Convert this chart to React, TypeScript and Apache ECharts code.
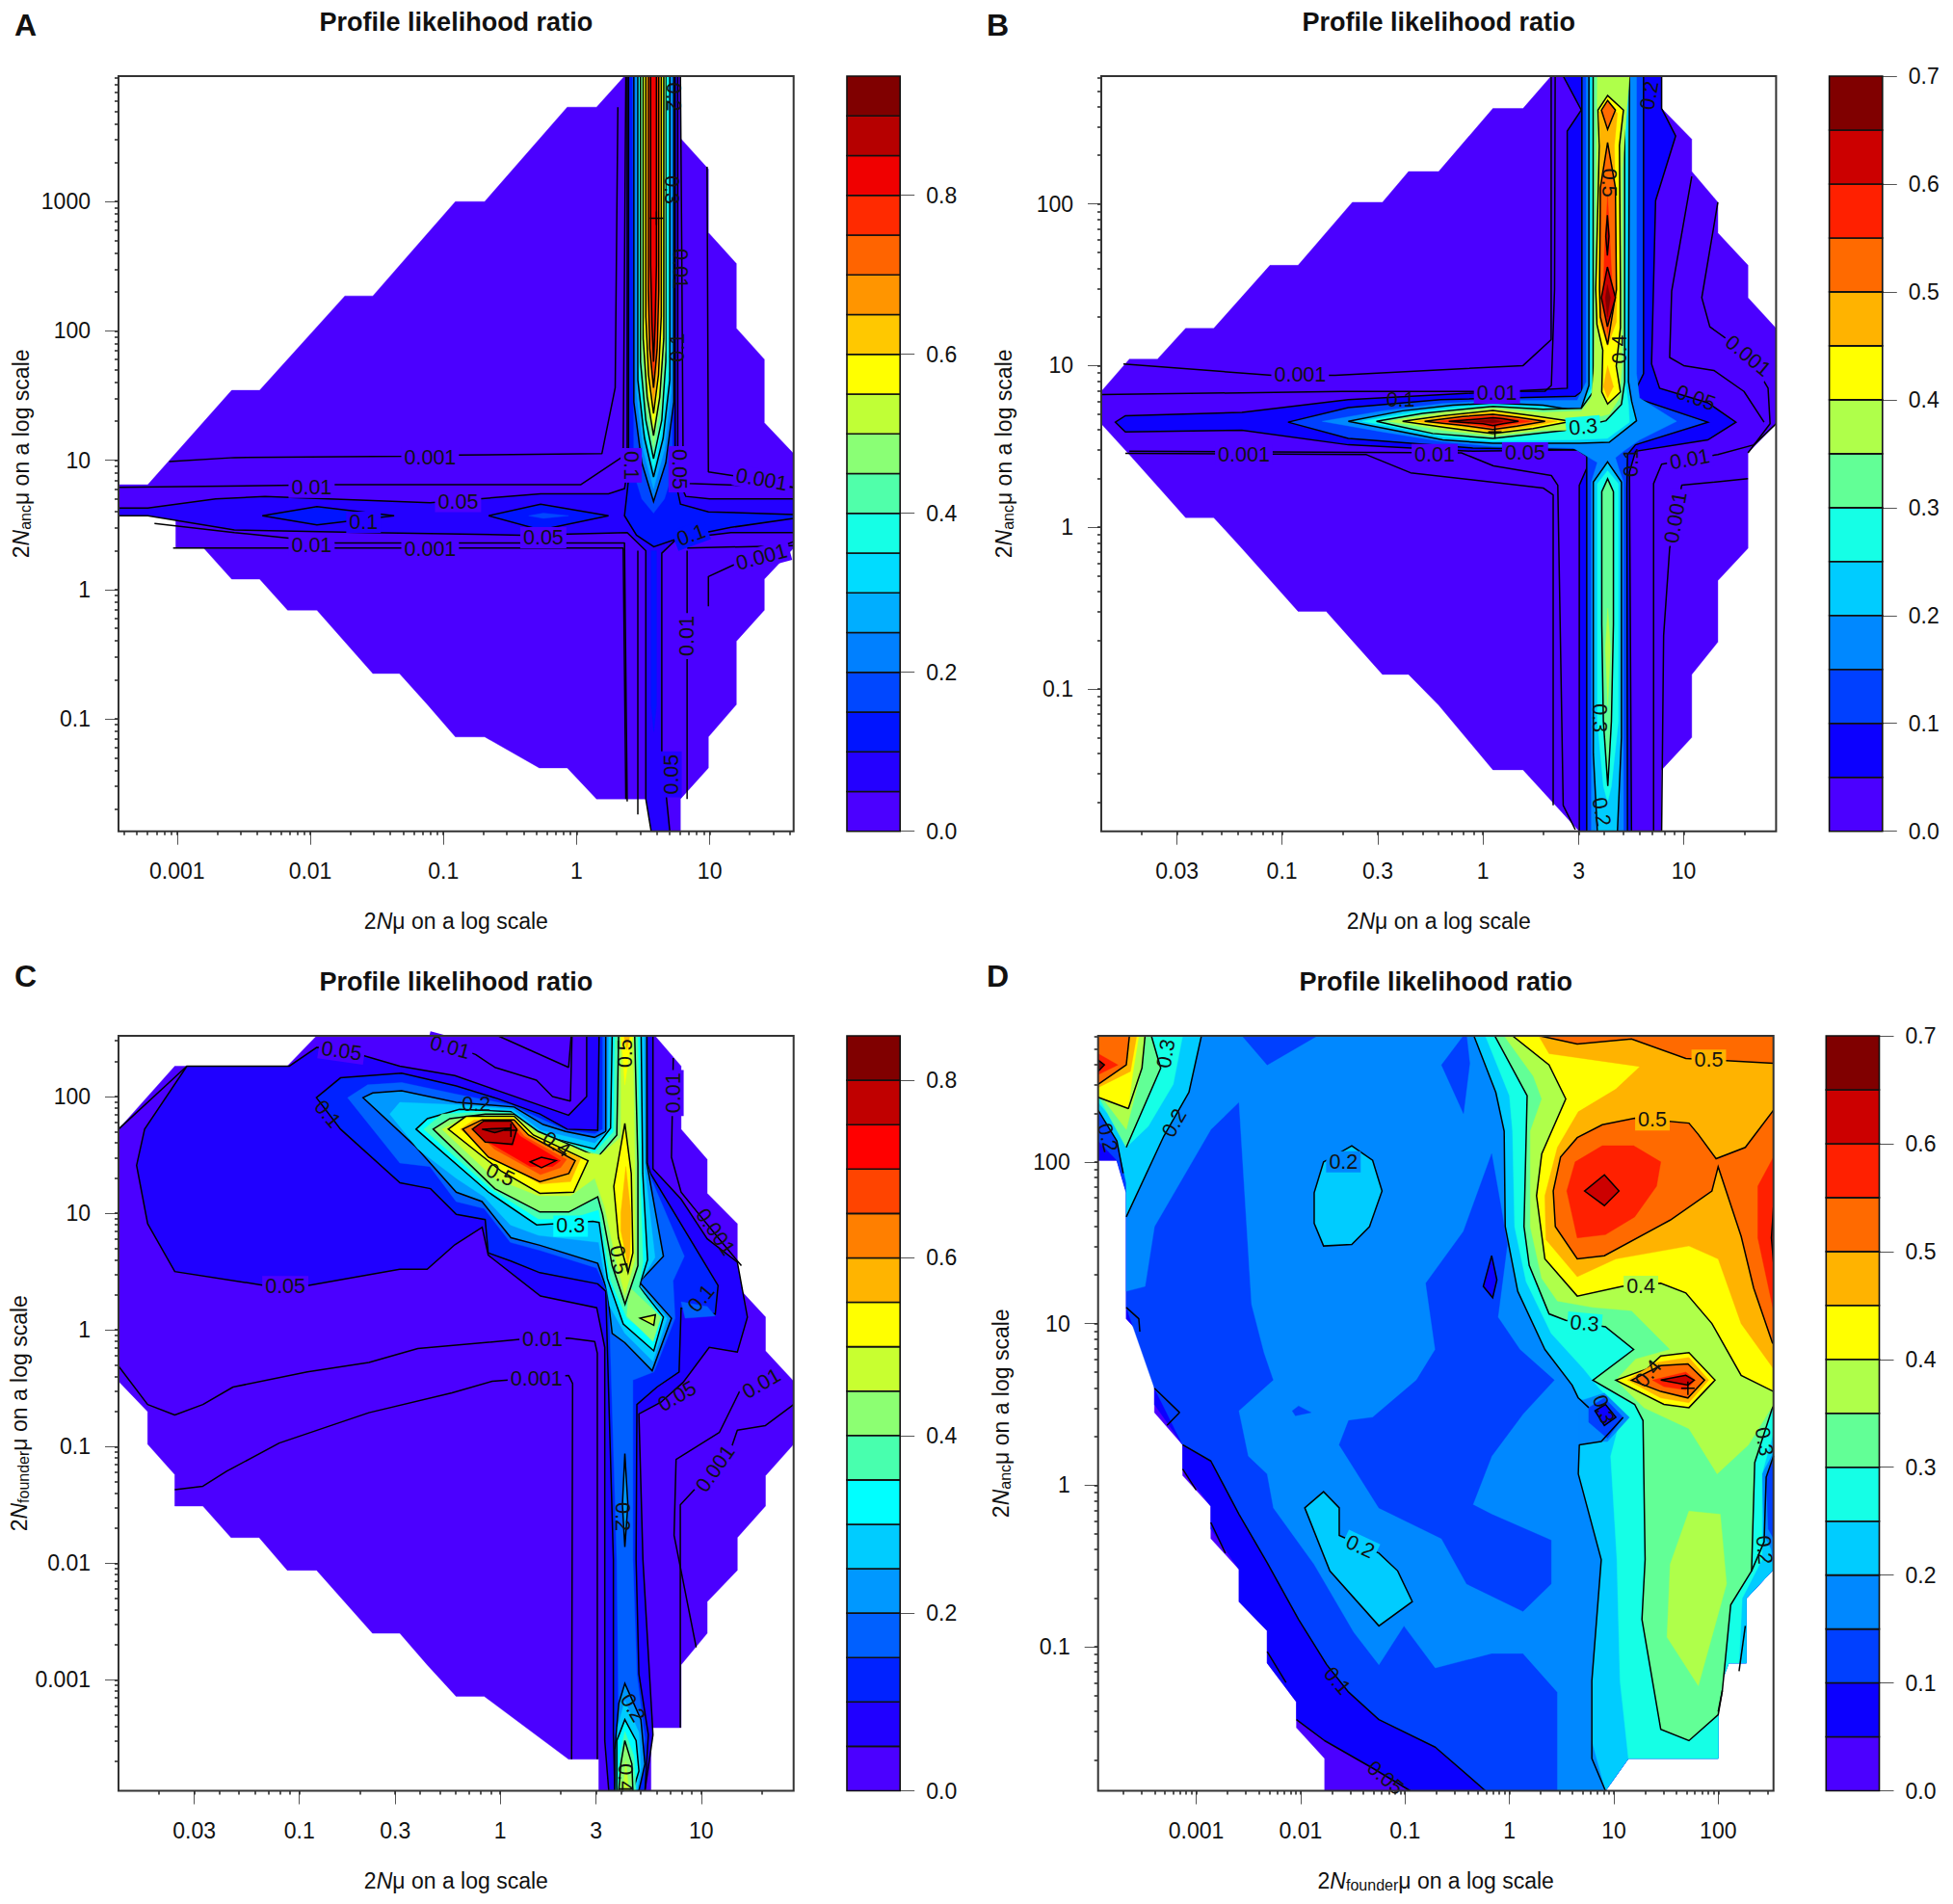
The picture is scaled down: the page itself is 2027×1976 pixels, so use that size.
import React, { useEffect, useRef } from 'react';
import * as echarts from 'echarts';

// all marks are in log10 units of the axis values
type Pt = number[];
type Fill = [number, number, Pt[]]; // colour index, outlined, polygon
type Label = [string, number, number, number, number]; // text, x, y, rotation, background colour index

const FONT = '"Liberation Sans", Arial, sans-serif';

const colors19 = ['#4B00FF', '#2400FF', '#0014FF', '#0047FF', '#0080FF', '#00AEFF', '#00DCFF', '#15FFE6', '#50FFAA', '#8AFF75', '#C0FF36', '#FFFF00', '#FFC800', '#FF9500', '#FF6400', '#FF2A00', '#F00000', '#B60000', '#800000'];
const colors14 = ['#4B00FF', '#0C00FF', '#0040FF', '#0088FF', '#00CCFF', '#15FFE6', '#62FF96', '#AFFF4A', '#FFFF00', '#FFB300', '#FF6A00', '#FF2000', '#CC0000', '#800000'];
const colors17 = ['#4B00FF', '#2000FF', '#0022FF', '#0060FF', '#0098FF', '#00CCFF', '#00FFFF', '#48FFAE', '#8CFF72', '#C8FF30', '#FFFF00', '#FFB400', '#FF7F00', '#FF4400', '#FF0000', '#C00000', '#800000'];

const barTicksA = [0, 0.2, 0.4, 0.6, 0.8];
const barTicksB = [0, 0.1, 0.2, 0.3, 0.4, 0.5, 0.6, 0.7];

const xTicksA = [0.001, 0.01, 0.1, 1, 10];
const yTicksA = [0.1, 1, 10, 100, 1000];
const xTicksB = [0.03, 0.1, 0.3, 1, 3, 10];
const yTicksB = [0.1, 1, 10, 100];
const yTicksC = [0.001, 0.01, 0.1, 1, 10, 100];
const xTicksD = [0.001, 0.01, 0.1, 1, 10, 100];

const fillsA: Fill[] = [
  [0, 0, [[-3.44, 0.81], [-3.22, 0.81], [-2.59, 1.54], [-2.38, 1.54], [-1.74, 2.27], [-1.53, 2.27], [-0.91, 3], [-0.69, 3], [-0.07, 3.73], [0.15, 3.73], [0.36, 3.97], [0.78, 3.97], [0.78, 3.49], [0.99, 3.25], [0.99, 2.76], [1.2, 2.52], [1.2, 2.02], [1.41, 1.78], [1.41, 1.29], [1.63, 1.05], [1.63, 0.32], [1.41, 0.08], [1.41, -0.16], [1.2, -0.4], [1.2, -0.89], [0.99, -1.14], [0.99, -1.38], [0.78, -1.62], [0.78, -1.87], [0.56, -1.87], [0.56, -1.62], [0.15, -1.62], [-0.07, -1.38], [-0.28, -1.38], [-0.69, -1.14], [-0.91, -1.14], [-1.12, -0.89], [-1.33, -0.65], [-1.53, -0.65], [-1.95, -0.16], [-2.17, -0.16], [-2.38, 0.08], [-2.59, 0.08], [-2.8, 0.32], [-3.01, 0.32], [-3.01, 0.57], [-3.44, 0.57]]],
  [1, 1, [[-3.44, 0.63], [-3.22, 0.63], [-2.71, 0.7], [-2.34, 0.72], [-1.1, 0.67], [-0.27, 0.74], [0.24, 0.74], [0.36, 0.78], [0.38, 0.91], [0.38, 3.97], [0.76, 3.97], [0.76, 0.86], [0.82, 0.72], [1, 0.7], [1.63, 0.7], [1.63, 0.44], [1.16, 0.44], [0.75, 0.39], [0.64, 0.28], [0.64, -1.25], [0.7, -1.87], [0.56, -1.87], [0.52, -1.62], [0.52, 0.3], [0.38, 0.44], [-0.41, 0.42], [-1.56, 0.44], [-2.57, 0.46], [-3.22, 0.57], [-3.44, 0.57]]],
  [2, 1, [[-2.36, 0.57], [-1.95, 0.64], [-1.37, 0.57], [-1.95, 0.5]]],
  [2, 1, [[-0.66, 0.57], [-0.27, 0.66], [0.24, 0.57], [-0.27, 0.46]]],
  [3, 0, [[-0.36, 0.57], [-0.25, 0.59], [-0.06, 0.57], [-0.25, 0.55]]],
  [2, 1, [[0.39, 3.97], [0.74, 3.97], [0.74, 0.85], [0.78, 0.66], [0.99, 0.6], [1.63, 0.58], [1.63, 0.55], [1.16, 0.48], [0.78, 0.4], [0.58, 0.33], [0.45, 0.42], [0.36, 0.57], [0.39, 0.85]]],
  [2, 0, [[0.56, 0.3], [0.6, 0.3], [0.6, -0.9], [0.58, -1.1], [0.56, -0.9]]],
  [3, 0, [[0.42, 3.97], [0.72, 3.97], [0.72, 0.9], [0.66, 0.7], [0.578, 0.59], [0.49, 0.7], [0.43, 0.9]]],
  [4, 1, [[0.43, 3.97], [0.73, 3.97], [0.73, 1.45], [0.67, 0.98], [0.578, 0.68], [0.49, 0.98], [0.43, 1.45]]],
  [5, 0, [[0.45, 3.97], [0.71, 3.97], [0.71, 1.53], [0.66, 1.08], [0.578, 0.78], [0.5, 1.08], [0.45, 1.53]]],
  [6, 1, [[0.46, 3.97], [0.7, 3.97], [0.7, 1.62], [0.65, 1.17], [0.578, 0.87], [0.51, 1.17], [0.46, 1.62]]],
  [7, 0, [[0.47, 3.97], [0.69, 3.97], [0.69, 1.69], [0.64, 1.24], [0.578, 0.94], [0.51, 1.24], [0.47, 1.69]]],
  [8, 1, [[0.48, 3.97], [0.67, 3.97], [0.67, 1.76], [0.64, 1.31], [0.578, 1.01], [0.52, 1.31], [0.48, 1.76]]],
  [9, 0, [[0.49, 3.97], [0.665, 3.97], [0.665, 1.85], [0.63, 1.4], [0.578, 1.1], [0.525, 1.4], [0.49, 1.85]]],
  [10, 1, [[0.5, 3.97], [0.655, 3.97], [0.655, 1.94], [0.625, 1.49], [0.578, 1.19], [0.53, 1.49], [0.5, 1.94]]],
  [11, 0, [[0.51, 3.97], [0.645, 3.97], [0.645, 2.03], [0.62, 1.58], [0.578, 1.28], [0.535, 1.58], [0.51, 2.03]]],
  [12, 1, [[0.52, 3.97], [0.636, 3.97], [0.636, 2.11], [0.615, 1.66], [0.578, 1.36], [0.54, 1.66], [0.52, 2.11]]],
  [13, 0, [[0.53, 3.97], [0.626, 3.97], [0.626, 2.21], [0.61, 1.76], [0.578, 1.46], [0.55, 1.76], [0.53, 2.21]]],
  [14, 1, [[0.54, 3.97], [0.617, 3.97], [0.617, 2.31], [0.605, 1.86], [0.578, 1.56], [0.55, 1.86], [0.54, 2.31]]],
  [15, 0, [[0.548, 3.97], [0.608, 3.97], [0.608, 2.41], [0.6, 1.96], [0.578, 1.66], [0.556, 1.96], [0.548, 2.41]]],
  [16, 1, [[0.556, 3.97], [0.6, 3.97], [0.6, 2.51], [0.59, 2.06], [0.578, 1.76], [0.566, 2.06], [0.556, 2.51]]],
];
const linesA: Pt[][] = [
  [[-3.06, 0.99], [-2.57, 1.02], [-1.28, 1.03], [-0.89, 1.04], [0.19, 1.05], [0.29, 1.56], [0.31, 3.73]],
  [[-3.44, 0.79], [-1.83, 0.81], [0.03, 0.81], [0.35, 1.03], [0.37, 3.97]],
  [[-3.17, 0.51], [-2.57, 0.44], [-1.81, 0.36], [0.36, 0.36], [0.38, -1.64]],
  [[-3.03, 0.32], [0.35, 0.32], [0.37, -1.62]],
  [[0.46, 0.3], [0.46, -1.74]],
  [[0.98, 3.27], [0.99, 0.91], [1.18, 0.88], [1.63, 0.79]],
  [[0.78, 3.97], [0.79, 2.6], [0.8, 1], [0.84, 0.82], [1.63, 0.79]],
  [[0.83, 0.32], [1.63, 0.34]],
  [[0.83, 0.3], [0.83, -1.62]],
  [[0.99, -0.13], [0.99, 0.1], [1.18, 0.19], [1.58, 0.35], [1.63, 0.37]],
];
const labelsA: Label[] = [
  ['0.001', -1.1, 1.02, 0, 0], ['0.01', -1.99, 0.79, 0, 0], ['0.05', -0.89, 0.68, 0, 0], ['0.1', -1.6, 0.52, 0, 1],
  ['0.05', -0.25, 0.4, 0, 0], ['0.01', -1.99, 0.34, 0, 0], ['0.001', -1.1, 0.31, 0, 0], ['0.1', 0.41, 0.96, -90, 0],
  ['0.05', 0.77, 0.93, -90, 0], ['0.1', 0.86, 0.42, 20, 2], ['0.001', 1.39, 0.85, -10, 0], ['0.001', 1.39, 0.25, 15, 0],
  ['0.01', 0.83, -0.36, 90, 0], ['0.05', 0.71, -1.43, 90, 1], ['0.2', 0.73, 3.81, -90, -1], ['0.3', 0.71, 3.09, -90, -1],
  ['0.01', 0.78, 2.48, -90, -1], ['0.1', 0.76, 1.87, 90, -1],
];
const plusA: Pt[] = [[0.6, 2.87]];

const fillsB: Fill[] = [
  [0, 0, [[-1.9, 0.84], [-1.76, 1.04], [-1.62, 1.04], [-1.48, 1.23], [-1.34, 1.23], [-1.06, 1.62], [-0.92, 1.62], [-0.65, 2.01], [-0.5, 2.01], [-0.37, 2.2], [-0.22, 2.2], [0.05, 2.59], [0.2, 2.59], [0.34, 2.79], [0.89, 2.79], [0.89, 2.59], [1.04, 2.4], [1.04, 2.2], [1.17, 2.01], [1.17, 1.82], [1.32, 1.62], [1.32, 1.42], [1.46, 1.23], [1.46, 0.64], [1.32, 0.46], [1.32, -0.13], [1.17, -0.33], [1.17, -0.71], [1.04, -0.91], [1.04, -1.3], [0.89, -1.5], [0.89, -1.88], [0.48, -1.88], [0.2, -1.5], [0.05, -1.5], [-0.22, -1.1], [-0.37, -0.91], [-0.5, -0.91], [-0.78, -0.52], [-0.92, -0.52], [-1.2, -0.13], [-1.34, 0.06], [-1.48, 0.06], [-1.76, 0.45], [-1.9, 0.64]]],
  [1, 1, [[0.4, 2.79], [0.49, 2.58], [0.42, 2.45], [0.42, 0.86], [-0.67, 0.79], [-1.2, 0.71], [-1.78, 0.69], [-1.83, 0.65], [-1.78, 0.59], [-1.2, 0.6], [-0.67, 0.51], [-0.05, 0.47], [0.495, 0.48], [0.54, 0.43], [0.48, 0.26], [0.48, -1.88], [0.74, -1.88], [0.73, 0.34], [0.76, 0.47], [1.12, 0.54], [1.26, 0.65], [1.12, 0.77], [0.88, 0.86], [0.84, 1.01], [0.86, 2.02], [0.96, 2.42], [0.89, 2.59], [0.89, 2.79]]],
  [2, 1, [[0.493, 2.79], [0.493, 0.84], [0.46, 0.81], [-0.21, 0.79], [-0.67, 0.74], [-0.97, 0.65], [-0.67, 0.55], [-0.05, 0.49], [0.469, 0.48], [0.517, 0.44], [0.517, 0.24], [0.517, -1.88], [0.72, -1.88], [0.717, 0.24], [0.72, 0.45], [0.76, 0.51], [1.12, 0.65], [0.76, 0.8], [0.757, 0.84], [0.8, 0.95], [0.8, 2.79]]],
  [3, 0, [[-0.8, 0.655], [-0.5, 0.72], [-0.2, 0.765], [0.05, 0.783], [0.47, 0.785], [0.515, 0.9], [0.515, 2.79], [0.765, 2.79], [0.765, 0.95], [0.78, 0.8], [0.965, 0.655], [0.78, 0.54], [0.7, 0.47], [0.66, 0.43], [0.68, 0.35], [0.7, 0.28], [0.7, -1.88], [0.54, -1.88], [0.54, 0.28], [0.57, 0.4], [0.45, 0.49], [0.05, 0.5], [-0.2, 0.53], [-0.5, 0.59]]],
  [4, 1, [[-0.67, 0.655], [-0.4, 0.72], [-0.15, 0.755], [0.05, 0.768], [0.3, 0.755], [0.485, 0.718], [0.528, 0.877], [0.528, 2.79], [0.73, 2.79], [0.725, 0.9], [0.741, 0.778], [0.765, 0.659], [0.629, 0.525], [0.48, 0.52], [0.05, 0.519], [-0.2, 0.54], [-0.4, 0.59]]],
  [5, 0, [[-0.6, 0.655], [-0.35, 0.71], [-0.1, 0.745], [0.05, 0.758], [0.3, 0.74], [0.49, 0.72], [0.54, 0.86], [0.54, 2.79], [0.715, 2.79], [0.71, 0.9], [0.725, 0.76], [0.73, 0.65], [0.62, 0.55], [0.45, 0.54], [0.05, 0.534], [-0.2, 0.56], [-0.35, 0.6]]],
  [6, 1, [[-0.53, 0.655], [-0.3, 0.705], [-0.05, 0.735], [0.05, 0.748], [0.3, 0.73], [0.49, 0.735], [0.549, 0.837], [0.549, 2.79], [0.706, 2.79], [0.706, 0.9], [0.69, 0.76], [0.613, 0.659], [0.405, 0.599], [0.05, 0.549], [-0.25, 0.58], [-0.4, 0.62]]],
  [7, 0, [[-0.47, 0.655], [-0.2, 0.71], [0.05, 0.735], [0.3, 0.71], [0.49, 0.72], [0.54, 0.8], [0.555, 1], [0.57, 2.79], [0.73, 2.79], [0.693, 2.2], [0.693, 1], [0.68, 0.8], [0.63, 0.7], [0.5, 0.66], [0.44, 0.6], [0.3, 0.6], [0.05, 0.565], [-0.2, 0.6]]],
  [8, 1, [[-0.4, 0.655], [-0.2, 0.69], [0.05, 0.722], [0.25, 0.69], [0.44, 0.655], [0.25, 0.61], [0.05, 0.579], [-0.2, 0.62]]],
  [9, 0, [[-0.34, 0.655], [-0.15, 0.69], [0.05, 0.71], [0.22, 0.68], [0.37, 0.655], [0.22, 0.62], [0.05, 0.59], [-0.15, 0.625]]],
  [10, 1, [[-0.29, 0.655], [-0.1, 0.685], [0.05, 0.698], [0.17, 0.68], [0.31, 0.655], [0.17, 0.625], [0.05, 0.605], [-0.1, 0.63]]],
  [11, 0, [[-0.23, 0.655], [-0.05, 0.68], [0.05, 0.688], [0.13, 0.675], [0.245, 0.655], [0.13, 0.635], [0.05, 0.617], [-0.05, 0.635]]],
  [12, 1, [[-0.17, 0.655], [0, 0.672], [0.05, 0.678], [0.1, 0.672], [0.178, 0.655], [0.1, 0.64], [0.05, 0.629], [0, 0.64]]],
  [13, 0, [[-0.07, 0.655], [0.05, 0.665], [0.1, 0.655], [0.05, 0.645]]],
  [8, 1, [[0.621, 2.67], [0.7, 2.58], [0.68, 2.36], [0.685, 1.47], [0.685, 1.235], [0.664, 0.996], [0.685, 0.837], [0.621, 0.762], [0.592, 0.837], [0.597, 1.096], [0.568, 1.255], [0.562, 1.473], [0.58, 2.36], [0.573, 2.58]]],
  [9, 0, [[0.621, 2.63], [0.67, 2.56], [0.655, 2.36], [0.668, 1.47], [0.665, 1.27], [0.621, 1.12], [0.58, 1.27], [0.578, 1.47], [0.585, 2.36], [0.578, 2.56]]],
  [9, 0, [[0.621, 1], [0.65, 0.87], [0.621, 0.8], [0.6, 0.87]]],
  [10, 1, [[0.621, 2.64], [0.66, 2.58], [0.621, 2.46], [0.59, 2.58]]],
  [10, 1, [[0.621, 2.38], [0.66, 2.1], [0.665, 1.47], [0.621, 1.13], [0.585, 1.3], [0.581, 1.47], [0.585, 2.1]]],
  [11, 0, [[0.621, 2.05], [0.645, 1.47], [0.621, 1.2], [0.6, 1.47], [0.605, 1.7]]],
  [12, 1, [[0.62, 1.61], [0.66, 1.42], [0.62, 1.24], [0.59, 1.42]]],
  [12, 1, [[0.62, 1.93], [0.628, 1.8], [0.62, 1.68], [0.612, 1.8]]],
  [13, 0, [[0.62, 1.5], [0.635, 1.42], [0.62, 1.3], [0.61, 1.42]]],
  [4, 1, [[0.621, 0.404], [0.69, 0.28], [0.69, -1.3], [0.67, -1.88], [0.57, -1.88], [0.55, -1.4], [0.55, 0.28]]],
  [5, 0, [[0.621, 0.35], [0.675, 0.27], [0.675, -1.2], [0.64, -1.6], [0.621, -1.7], [0.6, -1.6], [0.57, -1.2], [0.57, 0.27]]],
  [6, 1, [[0.621, 0.3], [0.65, 0.22], [0.65, -0.6], [0.64, -1.2], [0.622, -1.6], [0.6, -1.2], [0.592, -0.6], [0.592, 0.22]]],
  [7, 0, [[0.622, -0.5], [0.635, -0.75], [0.622, -1.1], [0.61, -0.75]]],
];
const linesB: Pt[][] = [
  [[-1.79, 1.01], [-1.05, 0.94], [-0.735, 0.94], [0.2, 1], [0.34, 1.16], [0.34, 2.79]],
  [[-1.9, 0.82], [-0.7, 0.84], [0.309, 0.841], [0.341, 0.877], [0.357, 1.473], [0.36, 2.79]],
  [[-1.78, 0.457], [-0.58, 0.449], [-0.36, 0.337], [0.3, 0.243], [0.35, 0.2], [0.35, -1.72]],
  [[-1.76, 0.47], [-0.107, 0.46], [0.053, 0.38], [0.341, 0.32], [0.373, 0.26], [0.381, -0.32], [0.4, -1.72], [0.46, -1.87]],
  [[0.85, -1.88], [0.85, 0.27], [0.89, 0.39], [1.17, 0.45], [1.35, 0.51], [1.46, 0.64]],
  [[1.32, 0.3], [0.99, 0.26], [0.93, -0.13], [0.9, -0.67], [0.89, -1.88]],
  [[1.17, 2.01], [1.09, 1.42], [1.13, 1.24], [1.32, 1.07], [1.42, 0.86], [1.43, 0.64], [1.32, 0.46]],
  [[1.04, 2.17], [0.94, 1.46], [0.93, 1.05], [1, 1], [1.15, 0.97], [1.3, 0.84], [1.4, 0.65]],
];
const labelsB: Label[] = [
  ['0.001', -0.91, 0.94, 0, 0], ['0.01', 0.07, 0.83, 0, 0], ['0.1', -0.41, 0.79, 0, -1], ['0.05', 1.06, 0.8, -20, -1],
  ['0.001', 1.32, 1.06, -40, 0], ['0.3', 0.5, 0.62, 5, 5], ['0.001', -1.19, 0.45, 0, 0], ['0.01', -0.24, 0.45, 0, 0],
  ['0.05', 0.21, 0.46, 0, 0], ['0.1', 0.74, 0.4, 90, -1], ['0.01', 1.03, 0.42, 10, 0], ['0.001', 0.96, 0.06, 80, 0],
  ['0.3', 0.58, -1.18, -90, -1], ['0.2', 0.59, -1.76, -80, -1], ['0.5', 0.63, 2.13, -90, -1], ['0.4', 0.68, 1.1, 90, -1],
  ['0.2', 0.83, 2.67, 80, -1],
];
const plusB: Pt[] = [[0.06, 0.59]];

const fillsC: Fill[] = [
  [0, 0, [[-1.9, 1.72], [-1.62, 2.26], [-1.06, 2.26], [-0.914, 2.52], [0.77, 2.52], [0.9, 2.26], [0.9, 1.72], [1.03, 1.46], [1.03, 1.17], [1.18, 0.91], [1.18, 0.37], [1.32, 0.11], [1.32, -0.18], [1.46, -0.44], [1.46, -0.98], [1.32, -1.25], [1.32, -1.51], [1.18, -1.78], [1.18, -2.06], [1.03, -2.33], [1.03, -2.6], [0.9, -2.87], [0.9, -3.41], [0.75, -3.41], [0.75, -3.95], [0.49, -3.95], [0.49, -3.68], [0.34, -3.68], [-0.08, -3.14], [-0.22, -3.14], [-0.364, -2.87], [-0.5, -2.6], [-0.636, -2.6], [-0.914, -2.06], [-1.06, -2.06], [-1.2, -1.78], [-1.34, -1.78], [-1.48, -1.51], [-1.62, -1.51], [-1.62, -1.24], [-1.755, -0.98], [-1.755, -0.7], [-1.9, -0.44]]],
  [1, 1, [[-1.56, 2.26], [-1.05, 2.26], [-0.914, 2.42], [-0.8, 2.41], [-0.5, 2.26], [-0.226, 2.18], [-0.012, 2.05], [0.34, 1.84], [0.43, 2], [0.43, 2.52], [0.76, 2.52], [0.76, 1.38], [0.9, 1.12], [1.03, 0.78], [1.18, 0.58], [1.23, 0.11], [1.18, -0.19], [1.04, -0.15], [0.91, -0.45], [0.8, -0.62], [0.69, -0.72], [0.71, -1.97], [0.76, -3.47], [0.72, -3.95], [0.54, -3.95], [0.52, -3.52], [0.52, -0.15], [0.48, 0.19], [0.2, 0.29], [-0.06, 0.64], [-0.09, 0.88], [-0.226, 0.73], [-0.364, 0.52], [-0.5, 0.52], [-0.96, 0.38], [-1.17, 0.38], [-1.62, 0.5], [-1.755, 0.91], [-1.81, 1.41], [-1.77, 1.72]]],
  [2, 1, [[-0.915, 1.99], [-0.795, 2.16], [-0.491, 2.2], [-0.219, 2.09], [-0.011, 1.98], [0.197, 1.85], [0.333, 1.72], [0.485, 1.71], [0.492, 2.52], [0.73, 2.52], [0.732, 1.43], [0.748, 1.34], [1.084, 0.38], [1.07, 0.135], [0.9, 0.187], [0.89, -0.36], [0.78, -0.49], [0.68, -0.64], [0.676, -1.97], [0.69, -2.95], [0.737, -3.47], [0.72, -3.95], [0.57, -3.95], [0.563, -3.47], [0.563, -1.97], [0.525, 0.33], [0.485, 0.395], [0.197, 0.49], [0.053, 0.59], [-0.06, 0.66], [-0.075, 0.945], [-0.219, 0.99], [-0.347, 1.21], [-0.499, 1.26], [-0.795, 1.72]]],
  [3, 0, [[-0.76, 1.99], [-0.66, 2.1], [-0.49, 2.12], [-0.22, 2.02], [0.05, 1.93], [0.2, 1.81], [0.33, 1.71], [0.47, 1.68], [0.51, 1.72], [0.51, 2.52], [0.73, 2.52], [0.73, 1.43], [0.75, 1.3], [0.916, 0.63], [0.86, 0.42], [0.87, 0.1], [0.765, -0.36], [0.66, -0.43], [0.66, -1.97], [0.68, -2.95], [0.72, -3.5], [0.69, -3.95], [0.59, -3.95], [0.59, -3.5], [0.58, -1.97], [0.54, 0.3], [0.48, 0.53], [0.2, 0.68], [0.05, 0.75], [-0.08, 1.04], [-0.22, 1.1], [-0.35, 1.4], [-0.5, 1.43]]],
  [3, 0, [[0.9, 0.24], [1.03, 0.2], [1.07, 0.12], [0.92, 0.1]]],
  [4, 1, [[-0.683, 1.99], [-0.635, 2.03], [-0.491, 2.05], [-0.219, 1.95], [0.069, 1.91], [0.213, 1.76], [0.325, 1.7], [0.469, 1.65], [0.525, 1.7], [0.525, 2.52], [0.729, 2.52], [0.729, 1.43], [0.812, 0.63], [0.692, 0.41], [0.852, 0.1], [0.756, -0.35], [0.62, -0.11], [0.557, -0.03], [0.533, 0.33], [0.485, 0.57], [0.197, 0.725], [0.053, 0.79], [-0.091, 1.1], [-0.219, 1.18], [-0.427, 1.58]]],
  [4, 1, [[0.62, -1.06], [0.635, -1.5], [0.62, -1.86], [0.608, -1.5]]],
  [5, 0, [[-0.55, 1.85], [-0.5, 1.95], [-0.22, 1.93], [0.06, 1.89], [0.2, 1.71], [0.47, 1.6], [0.535, 1.71], [0.54, 2.52], [0.715, 2.52], [0.72, 1.38], [0.77, 0.62], [0.69, 0.39], [0.83, 0.1], [0.76, -0.27], [0.62, -0.03], [0.545, 0.2], [0.49, 0.75], [0.19, 0.81], [0.05, 0.9], [-0.08, 1.14], [-0.22, 1.3], [-0.41, 1.55]]],
  [6, 1, [[-0.419, 1.72], [-0.363, 1.81], [-0.203, 1.89], [0.053, 1.87], [0.197, 1.67], [0.469, 1.55], [0.549, 1.73], [0.557, 2.52], [0.701, 2.52], [0.709, 1.34], [0.733, 0.6], [0.692, 0.37], [0.812, 0.11], [0.764, -0.18], [0.612, 0.05], [0.533, 0.44], [0.492, 0.92], [0.461, 0.93], [0.181, 0.9], [-0.059, 1.18]]],
  [7, 0, [[-0.38, 1.72], [-0.29, 1.85], [-0.07, 1.87], [0.06, 1.86], [0.19, 1.69], [0.47, 1.52], [0.565, 1.7], [0.57, 2.52], [0.685, 2.52], [0.695, 1.4], [0.71, 0.58], [0.69, 0.37], [0.79, 0.11], [0.765, -0.07], [0.63, 0.1], [0.55, 0.42], [0.49, 1.03], [0.34, 0.95], [0.19, 0.95], [-0.04, 1.2]]],
  [8, 0, [[0.64, 0.37], [0.8, 0.11], [0.76, -0.1], [0.63, 0.12]]],
  [8, 1, [[-0.334, 1.72], [-0.251, 1.81], [-0.075, 1.85], [0.069, 1.85], [0.189, 1.7], [0.357, 1.58], [0.485, 1.48], [0.58, 1.67], [0.589, 2.52], [0.669, 2.52], [0.685, 1.43], [0.685, 0.55], [0.621, 0.22], [0.557, 0.55], [0.509, 0.99], [0.485, 1.14], [0.341, 1.01], [0.197, 1.01], [-0.027, 1.21]]],
  [9, 1, [[0.696, 0.1], [0.772, 0.13], [0.764, 0.04]]],
  [9, 0, [[-0.29, 1.72], [-0.2, 1.8], [-0.06, 1.83], [0.06, 1.84], [0.18, 1.69], [0.42, 1.52], [0.5, 1.5], [0.6, 1.65], [0.6, 2.52], [0.66, 2.52], [0.67, 1.43], [0.67, 0.6], [0.62, 0.3], [0.575, 0.6], [0.52, 1.05], [0.47, 1.3], [0.35, 1.15], [0.19, 1.15], [-0.03, 1.3]]],
  [10, 1, [[-0.259, 1.72], [-0.171, 1.83], [0.069, 1.83], [0.165, 1.67], [0.437, 1.45], [0.365, 1.18], [0.197, 1.17], [0.005, 1.36]]],
  [10, 1, [[0.62, 1.77], [0.565, 1.23], [0.588, 0.79], [0.636, 0.49], [0.66, 0.66], [0.652, 1.34]]],
  [10, 0, [[0.6, 2.52], [0.66, 2.52], [0.64, 2.35], [0.62, 2.1], [0.61, 2.35]]],
  [11, 0, [[0.615, 2.52], [0.645, 2.52], [0.63, 2.4]]],
  [11, 0, [[-0.2, 1.72], [-0.13, 1.8], [0.06, 1.81], [0.15, 1.66], [0.4, 1.47], [0.35, 1.27], [0.2, 1.25], [0.02, 1.42]]],
  [11, 0, [[0.625, 1.4], [0.65, 1], [0.645, 0.65], [0.635, 0.55], [0.6, 0.85], [0.6, 1]]],
  [12, 1, [[-0.187, 1.72], [-0.091, 1.8], [0.069, 1.8], [0.141, 1.67], [0.373, 1.45], [0.341, 1.34], [0.197, 1.27], [-0.059, 1.48]]],
  [13, 0, [[-0.13, 1.72], [-0.08, 1.78], [0.06, 1.78], [0.12, 1.66], [0.33, 1.46], [0.3, 1.39], [0.2, 1.33], [-0.03, 1.55]]],
  [14, 0, [[-0.14, 1.72], [-0.08, 1.77], [0.05, 1.77], [0.1, 1.66], [0.3, 1.45], [0.26, 1.4], [0.15, 1.4], [-0.05, 1.6]]],
  [15, 1, [[-0.139, 1.72], [-0.083, 1.79], [0.053, 1.79], [0.082, 1.72], [0.06, 1.59], [-0.075, 1.61]]],
  [14, 1, [[0.149, 1.44], [0.205, 1.48], [0.277, 1.45], [0.205, 1.39]]],
  [16, 1, [[-0.091, 1.72], [0.053, 1.73], [-0.027, 1.69]]],
  [4, 1, [[0.62, -3.03], [0.7, -3.34], [0.72, -3.72], [0.69, -3.95], [0.57, -3.95], [0.57, -3.6], [0.59, -3.2]]],
  [5, 0, [[0.62, -3.18], [0.69, -3.45], [0.7, -3.75], [0.68, -3.95], [0.575, -3.95], [0.585, -3.4]]],
  [6, 1, [[0.62, -3.34], [0.676, -3.52], [0.69, -3.78], [0.66, -3.95], [0.58, -3.95], [0.58, -3.52]]],
  [7, 0, [[0.62, -3.44], [0.665, -3.65], [0.675, -3.95], [0.585, -3.95], [0.595, -3.65]]],
  [8, 1, [[0.62, -3.52], [0.655, -3.72], [0.66, -3.95], [0.59, -3.95], [0.6, -3.72]]],
  [9, 0, [[0.61, -3.95], [0.64, -3.95], [0.625, -3.7]]],
];
const linesC: Pt[][] = [
  [[-1.9, 1.72], [-1.56, 2.26]],
  [[-0.34, 2.5], [-0.123, 2.36], [-0.027, 2.25], [0.18, 2.14], [0.26, 2], [0.349, 1.96], [0.357, 2.52]],
  [[-0.011, 2.52], [0.34, 2.25], [0.353, 2.52]],
  [[0.861, 2.33], [0.852, 1.48], [0.9, 1.18], [0.98, 1.01], [1.108, 0.74], [1.2, 0.55]],
  [[-1.9, -0.31], [-1.755, -0.64], [-1.62, -0.73], [-1.48, -0.64], [-1.33, -0.49], [-0.96, -0.36], [-0.654, -0.28], [-0.41, -0.16], [0.11, -0.08], [0.34, -0.07], [0.47, -0.1], [0.483, -0.2], [0.483, -3.68]],
  [[-1.62, -1.37], [-1.48, -1.34], [-1.36, -1.21], [-1.1, -0.97], [-0.654, -0.71], [-0.24, -0.54], [-0.04, -0.44], [0.34, -0.39], [0.36, -0.46], [0.355, -3.68]],
  [[1.196, -0.51], [1.09, -0.88], [0.875, -1.11], [0.865, -1.76], [0.975, -2.72]],
  [[1.46, -0.64], [1.32, -0.82], [1.18, -0.86], [1.15, -1.01], [0.966, -1.37], [0.896, -1.5], [0.896, -3.41]],
];
const labelsC: Label[] = [
  ['0.05', -0.79, 2.39, -8, 0], ['0.01', -0.25, 2.42, -15, 0], ['0.2', -0.12, 1.93, 0, -1], ['0.1', -0.86, 1.85, -50, -1],
  ['0.4', 0.28, 1.59, -35, -1], ['0.5', 0, 1.33, -25, -1], ['0.3', 0.35, 0.89, 0, 6], ['0.5', 0.62, 2.37, 90, -1],
  ['0.01', 0.86, 2.03, 90, 0], ['0.001', 1.07, 0.84, -55, -1], ['0.5', 0.59, 0.6, -80, -1], ['0.05', -1.07, 0.37, 0, 0],
  ['0.1', 1, 0.27, 50, -1], ['0.01', 0.21, -0.08, 0, 0], ['0.001', 0.18, -0.42, 0, 0], ['0.05', 0.88, -0.57, 30, -1],
  ['0.01', 1.3, -0.46, 30, 0], ['0.001', 1.07, -1.19, 55, 0], ['0.2', 0.61, -1.6, -90, -1], ['0.2', 0.66, -3.24, -60, -1],
  ['0.4', 0.62, -3.84, -90, -1],
];
const plusC: Pt[] = [[0.053, 1.71]];

const fillsD: Fill[] = [
  [0, 0, [[-3.94, 2.78], [2.53, 2.78], [2.53, -0.52], [2.27, -0.7], [2.27, -1.1], [2.1, -1.1], [2, -1.27], [2, -1.69], [1.14, -1.69], [0.92, -1.89], [-1.77, -1.89], [-1.77, -1.69], [-2.04, -1.5], [-2.04, -1.34], [-2.32, -1.1], [-2.32, -0.9], [-2.59, -0.72], [-2.59, -0.52], [-2.86, -0.33], [-2.86, -0.13], [-3.13, 0.06], [-3.13, 0.25], [-3.4, 0.45], [-3.4, 0.84], [-3.67, 1.03], [-3.67, 1.81], [-3.76, 2.01], [-3.94, 2.01]]],
  [1, 0, [[-3.94, 2.78], [2.53, 2.78], [2.53, -0.52], [2.27, -0.7], [2.27, -1.1], [2.1, -1.1], [2, -1.27], [2, -1.69], [1.14, -1.69], [0.92, -1.89], [-0.95, -1.89], [-1.31, -1.75], [-1.77, -1.58], [-2.04, -1.45], [-2.04, -1.34], [-2.32, -1.1], [-2.32, -0.9], [-2.59, -0.72], [-2.59, -0.52], [-2.86, -0.27], [-2.86, -0.13], [-3.13, 0.1], [-3.13, 0.25], [-3.4, 0.5], [-3.4, 0.84], [-3.67, 1.03], [-3.67, 1.81], [-3.76, 2.01], [-3.94, 2.01]]],
  [2, 0, [[-3.94, 2.78], [2.53, 2.78], [2.53, -0.52], [2.27, -0.7], [2.27, -1.1], [2.1, -1.1], [2, -1.27], [2, -1.69], [1.14, -1.69], [0.92, -1.89], [-0.23, -1.89], [-0.71, -1.62], [-1.25, -1.45], [-1.54, -1.28], [-1.75, -1.11], [-2.02, -0.83], [-2.32, -0.48], [-2.59, -0.18], [-2.86, 0.15], [-3.13, 0.25], [-3.4, 0.6], [-3.67, 1.1], [-3.67, 1.81], [-3.76, 2.01], [-3.94, 2.13]]],
  [3, 0, [[-3.94, 2.78], [2.53, 2.78], [2.53, -0.52], [2.27, -0.7], [2.27, -1.1], [2.1, -1.1], [2, -1.27], [2, -1.69], [1.14, -1.69], [0.92, -1.89], [0.46, -1.89], [0.46, -1.28], [0.13, -1.04], [-0.17, -1.04], [-0.71, -1.13], [-1.01, -0.87], [-1.25, -1.11], [-1.49, -0.91], [-1.87, -0.49], [-2.26, -0.14], [-2.32, 0.07], [-2.5, 0.18], [-2.59, 0.46], [-2.26, 0.65], [-2.35, 0.82], [-2.47, 1.12], [-2.59, 2.37], [-2.86, 2.2], [-3.4, 1.6], [-3.49, 1.23], [-3.67, 1.2], [-3.67, 1.94], [-3.73, 2.09], [-3.94, 2.33]]],
  [2, 0, [[-0.17, 2.05], [-0.08, 1.72], [-0.02, 1.49], [-0.11, 1.04], [0.1, 0.84], [0.43, 0.65], [0.13, 0.44], [-0.17, 0.18], [-0.35, -0.12], [-0.17, -0.18], [0.4, -0.34], [0.4, -0.61], [0.13, -0.78], [-0.41, -0.61], [-0.65, -0.33], [-1.25, -0.14], [-1.63, 0.25], [-1.54, 0.4], [-1.31, 0.42], [-0.89, 0.65], [-0.71, 0.84], [-0.8, 1.25], [-0.44, 1.57]]],
  [2, 0, [[-2.56, 2.78], [-2.32, 2.6], [-1.84, 2.78]]],
  [2, 0, [[-0.44, 2.78], [-0.65, 2.6], [-0.44, 2.3], [-0.38, 2.61], [-0.41, 2.78]]],
  [2, 0, [[-2.08, 0.46], [-2.02, 0.49], [-1.9, 0.45], [-2.05, 0.43]]],
  [1, 1, [[-0.17, 1.42], [-0.25, 1.23], [-0.16, 1.16], [-0.12, 1.27]]],
  [4, 1, [[-1.78, 2], [-1.51, 2.1], [-1.31, 2.01], [-1.22, 1.82], [-1.34, 1.6], [-1.51, 1.49], [-1.78, 1.48], [-1.87, 1.62], [-1.87, 1.81]]],
  [4, 1, [[-1.96, -0.14], [-1.78, -0.04], [-1.63, -0.14], [-1.63, -0.31], [-1.25, -0.42], [-1.07, -0.53], [-0.93, -0.72], [-1.25, -0.87], [-1.72, -0.53]]],
  [4, 0, [[-3.94, 2.78], [-2.95, 2.78], [-3.07, 2.43], [-3.31, 2.16], [-3.67, 1.66], [-3.67, 1.87], [-3.76, 2.13], [-3.94, 2.32]]],
  [5, 0, [[-3.94, 2.78], [-3.13, 2.78], [-3.22, 2.48], [-3.46, 2.22], [-3.67, 2.09], [-3.85, 2.3], [-3.94, 2.37]]],
  [6, 0, [[-3.94, 2.78], [-3.43, 2.78], [-3.34, 2.58], [-3.67, 2.09], [-3.94, 2.41]]],
  [7, 0, [[-3.94, 2.78], [-3.49, 2.78], [-3.52, 2.58], [-3.67, 2.2], [-3.94, 2.43]]],
  [8, 0, [[-3.94, 2.78], [-3.55, 2.78], [-3.61, 2.54], [-3.65, 2.33], [-3.94, 2.4]]],
  [9, 0, [[-3.94, 2.78], [-3.57, 2.78], [-3.63, 2.56], [-3.94, 2.46]]],
  [10, 0, [[-3.94, 2.78], [-3.64, 2.78], [-3.67, 2.6], [-3.94, 2.48]]],
  [11, 0, [[-3.94, 2.67], [-3.75, 2.6], [-3.94, 2.54]]],
  [13, 1, [[-3.94, 2.63], [-3.88, 2.6], [-3.94, 2.56]]],
  [4, 0, [[-0.34, 2.78], [2.53, 2.78], [2.53, 0.18], [2.46, 0.05], [2.48, -0.27], [2.53, -0.52], [2.27, -0.7], [2.27, -1.1], [2.1, -1.1], [2, -1.27], [2, -1.69], [1.14, -1.69], [0.92, -1.89], [0.79, -1.58], [0.79, -1.21], [0.88, -0.46], [0.66, 0.07], [0.67, 0.25], [0.88, 0.27], [1.09, 0.42], [0.66, 0.54], [0.6, 0.62], [0.34, 0.84], [0.08, 1.2], [-0.04, 1.6], [-0.05, 2.19], [-0.13, 2.43]]],
  [3, 0, [[2.53, 0.2], [2.42, 0.07], [2.44, -0.31], [2.53, -0.42]]],
  [2, 0, [[2.53, 0.16], [2.46, 0.05], [2.48, -0.27], [2.53, -0.33]]],
  [5, 0, [[-0.23, 2.78], [2.53, 2.78], [2.53, 0.33], [2.42, 0.07], [2.42, -0.46], [2.23, -0.7], [2.2, -1.1], [2.1, -1.1], [2, -1.27], [2, -1.69], [1.14, -1.69], [1.06, -1.21], [1.03, -0.46], [0.97, 0.18], [1.06, 0.4], [1.11, 0.44], [0.86, 0.6], [0.71, 0.72], [0.4, 0.94], [0.16, 1.26], [0.05, 1.6], [0.03, 2.19], [0, 2.41]]],
  [6, 1, [[-0.14, 2.78], [2.53, 2.78], [2.53, 0.5], [2.35, 0.14], [2.32, -0.53], [2.12, -0.74], [2.04, -1.27], [2, -1.42], [1.72, -1.58], [1.45, -1.51], [1.27, -0.83], [1.3, -0.46], [1.28, 0.4], [1.2, 0.5], [0.8, 0.65], [1.19, 0.84], [0.92, 0.98], [0.54, 1.02], [0.38, 1.06], [0.19, 1.36], [0.14, 1.6], [0.17, 2.41]]],
  [7, 0, [[-0.05, 2.78], [2.53, 2.78], [2.53, 0.5], [2.29, 0.25], [1.99, 0.07], [1.72, 0.35], [1.29, 0.48], [1.02, 0.65], [1.21, 0.78], [1.54, 0.84], [1.17, 1.08], [0.8, 1.1], [0.46, 1.14], [0.31, 1.28], [0.2, 1.6], [0.2, 2.19], [0.31, 2.39], [0.23, 2.53]]],
  [7, 0, [[1.72, -0.16], [2.02, -0.18], [2.08, -0.61], [1.81, -1.24], [1.51, -0.94], [1.54, -0.49]]],
  [8, 1, [[0.03, 2.78], [0.38, 2.6], [0.54, 2.39], [0.31, 2.05], [0.26, 1.79], [0.34, 1.4], [0.65, 1.17], [1.08, 1.23], [1.45, 1.25], [1.69, 1.19], [1.94, 1], [2.22, 0.68], [2.53, 0.58], [2.53, 2.78]]],
  [8, 1, [[1.45, 0.8], [1.72, 0.82], [1.97, 0.65], [1.72, 0.48], [1.48, 0.5], [1.02, 0.65], [1.32, 0.72]]],
  [9, 0, [[0.28, 2.78], [0.38, 2.67], [1.25, 2.59], [1.02, 2.45], [0.66, 2.31], [0.46, 2.09], [0.34, 1.79], [0.35, 1.52], [0.65, 1.29], [1.02, 1.4], [1.72, 1.48], [2, 1.4], [2.22, 1], [2.53, 0.72], [2.53, 2.78]]],
  [9, 0, [[1.13, 0.65], [1.41, 0.76], [1.72, 0.79], [1.91, 0.65], [1.72, 0.51], [1.45, 0.54]]],
  [10, 1, [[0.29, 2.78], [0.65, 2.73], [1.17, 2.76], [1.69, 2.64], [2.53, 2.61], [2.53, 2.78]]],
  [10, 1, [[2.53, 2.32], [2.26, 2.09], [1.98, 2.02], [1.81, 2.17], [1.72, 2.24], [1.2, 2.27], [0.89, 2.23], [0.65, 2.15], [0.49, 2.03], [0.42, 1.82], [0.44, 1.6], [0.65, 1.4], [0.91, 1.42], [1.54, 1.64], [1.94, 1.82], [2, 1.97], [2.22, 1.54], [2.34, 1.22], [2.52, 0.88], [2.53, 0.88]]],
  [10, 1, [[1.17, 0.65], [1.45, 0.74], [1.71, 0.75], [1.87, 0.65], [1.71, 0.54], [1.45, 0.58]]],
  [11, 0, [[0.63, 2], [0.89, 2.1], [1.19, 2.1], [1.45, 2], [1.41, 1.85], [1.2, 1.66], [0.92, 1.55], [0.65, 1.53], [0.55, 1.82]]],
  [11, 0, [[2.53, 2.03], [2.38, 1.85], [2.38, 1.53], [2.53, 1.08]]],
  [11, 0, [[1.37, 0.65], [1.69, 0.7], [1.78, 0.65], [1.69, 0.59], [1.48, 0.61]]],
  [12, 1, [[0.72, 1.82], [0.91, 1.92], [1.05, 1.82], [0.91, 1.73]]],
  [12, 1, [[2.53, 1.72], [2.51, 1.53], [2.53, 1.38]]],
  [12, 1, [[1.45, 0.65], [1.69, 0.68], [1.77, 0.65], [1.71, 0.62]]],
  [3, 0, [[0.67, 0.52], [0.91, 0.57], [1.15, 0.42], [0.94, 0.27], [0.67, 0.27]]],
  [2, 0, [[0.76, 0.48], [0.91, 0.54], [1.09, 0.42], [0.94, 0.29], [0.76, 0.39]]],
  [1, 1, [[0.82, 0.46], [0.92, 0.5], [1.02, 0.42], [0.91, 0.37]]],
];
const linesD: Pt[][] = [
  [[-0.34, 2.78], [-0.13, 2.43], [-0.05, 2.19], [-0.04, 1.6], [0.08, 1.2], [0.34, 0.84], [0.6, 0.62], [0.66, 0.54], [0.76, 0.48]],
  [[1.09, 0.42], [0.88, 0.27], [0.67, 0.25], [0.66, 0.07], [0.88, -0.46], [0.79, -1.21], [0.79, -1.69], [0.92, -1.89]],
  [[-3.13, 0.25], [-2.86, 0.15], [-2.59, -0.18], [-2.32, -0.48], [-2.02, -0.83], [-1.75, -1.11], [-1.54, -1.28], [-1.25, -1.45], [-0.71, -1.62], [-0.23, -1.89]],
  [[-2.04, -1.45], [-1.77, -1.58], [-1.31, -1.75], [-0.95, -1.89]],
  [[-2.95, 2.78], [-3.07, 2.43], [-3.31, 2.16], [-3.67, 1.66]],
  [[-3.43, 2.78], [-3.34, 2.58], [-3.67, 2.09]],
  [[-3.94, 2.32], [-3.76, 2.13], [-3.7, 1.93]],
  [[-3.94, 2.4], [-3.65, 2.33], [-3.52, 2.58], [-3.49, 2.78]],
  [[-3.64, 2.78], [-3.67, 2.6], [-3.94, 2.48]],
  [[2.32, -0.53], [2.44, -0.35], [2.46, 0.05], [2.53, 0.18]],
  [[-3.67, 1.1], [-3.55, 1.03], [-3.54, 0.95]],
  [[-3.4, 0.6], [-3.16, 0.45], [-3.28, 0.37]],
  [[-3.13, 0.1], [-3, -0.03]],
  [[-2.86, -0.23], [-2.72, -0.42]],
  [[-2.32, -1.03], [-2.14, -1.22]],
  [[2.26, -0.87], [2.2, -1.15]],
  [[2.04, -1.27], [2, -1.4]],
];
const labelsD: Label[] = [
  ['0.3', -3.29, 2.67, 80, -1], ['0.2', -3.21, 2.24, 60, -1], ['0.2', -3.85, 2.15, -75, -1], ['0.2', -1.59, 2, 0, 3],
  ['0.2', -1.43, -0.38, -25, 4], ['0.1', -1.65, -1.21, -50, -1], ['0.05', -1.19, -1.81, -40, -1], ['0.3', 0.72, 1, -5, 5],
  ['0.5', 1.91, 2.63, 0, 9], ['0.5', 1.37, 2.26, 0, 9], ['0.4', 1.26, 1.23, 0, 7], ['0.4', 1.33, 0.69, 50, -1],
  ['0.3', 0.9, 0.47, -70, -1], ['0.3', 2.44, 0.27, -80, -1], ['0.2', 2.44, -0.4, -85, -1],
];
const plusD: Pt[] = [[1.71, 0.6]];

const panels = [
  { letter: 'A', letterX: 10, letterY: 5, left: 123, top: 79, width: 700.7, height: 783.7, barLeft: 879, xRange: [-3.44, 1.63], yRange: [-1.87, 3.97], xTicks: xTicksA, yTicks: yTicksA, xName: '', yName: 'anc', palette: colors19, barTicks: barTicksA, fills: fillsA, lines: linesA, labels: labelsA, plus: plusA },
  { letter: 'B', letterX: 1019, letterY: 5, left: 1143, top: 79, width: 700.4, height: 783.7, barLeft: 1898.6, xRange: [-1.9, 1.46], yRange: [-1.88, 2.79], xTicks: xTicksB, yTicks: yTicksB, xName: '', yName: 'anc', palette: colors14, barTicks: barTicksB, fills: fillsB, lines: linesB, labels: labelsB, plus: plusB },
  { letter: 'C', letterX: 10, letterY: 992, left: 123, top: 1075, width: 700.7, height: 783.5, barLeft: 879, xRange: [-1.9, 1.46], yRange: [-3.95, 2.52], xTicks: xTicksB, yTicks: yTicksC, xName: '', yName: 'founder', palette: colors17, barTicks: barTicksA, fills: fillsC, lines: linesC, labels: labelsC, plus: plusC },
  { letter: 'D', letterX: 1019, letterY: 992, left: 1139.7, top: 1075, width: 701, height: 783.5, barLeft: 1895.3, xRange: [-3.94, 2.53], yRange: [-1.89, 2.78], xTicks: xTicksD, yTicks: yTicksB, xName: 'founder', yName: 'anc', palette: colors14, barTicks: barTicksB, fills: fillsD, lines: linesD, labels: labelsD, plus: plusD },
];

const nameRich = {
  d: { fontFamily: FONT, fontSize: 23, color: '#111', lineHeight: 30 },
  i: { fontFamily: FONT, fontSize: 23, fontStyle: 'italic', color: '#111', lineHeight: 30 },
  s: { fontFamily: FONT, fontSize: 16, color: '#111', lineHeight: 30, padding: [9, 0, 0, 0] },
};

const axisName = (sub: string) => `{d|2}{i|N}${sub ? `{s|${sub}}` : ''}{d|\u03bc on a log scale}`;

// minor log ticks 2..9 inside each decade of the range
const minorTicks = (range: number[]) => {
  const out: number[] = [];
  for (let e = Math.floor(range[0]) - 1; e <= Math.ceil(range[1]); e++) {
    for (let m = 1; m < 10; m++) {
      const v = e + Math.log10(m);
      if (v >= range[0] && v <= range[1]) out.push(v);
    }
  }
  return out;
};

const tickText = (v: number) => String(Number((10 ** v).toPrecision(1)));

const buildOption = () => {
  const grid: any[] = [];
  const xAxis: any[] = [];
  const yAxis: any[] = [];
  const series: any[] = [];
  const title: any[] = [];
  const noLine = { show: false, onZero: false };

  panels.forEach((p) => {
    const g0 = grid.length;
    grid.push({ left: p.left, top: p.top, width: p.width, height: p.height, containLabel: false });
    grid.push({ left: p.barLeft, top: p.top, width: 55.2, height: p.height, containLabel: false });

    title.push({ text: 'Profile likelihood ratio', left: p.left + p.width / 2 - 5, top: p.top - 75, textAlign: 'center', textStyle: { fontFamily: FONT, fontWeight: 'bold', fontSize: 27, color: '#111' } });
    title.push({ text: p.letter, left: p.letterX, top: p.letterY, textStyle: { fontFamily: FONT, fontWeight: 'bold', fontSize: 32, color: '#111' } });

    const x0 = xAxis.length;
    const y0 = yAxis.length;
    const xMajor = p.xTicks.map(Math.log10);
    const yMajor = p.yTicks.map(Math.log10);

    xAxis.push({
      type: 'value', gridIndex: g0, position: 'bottom', min: p.xRange[0], max: p.xRange[1], splitLine: { show: false }, axisLine: noLine,
      axisTick: { length: 14, customValues: xMajor, lineStyle: { color: '#555', width: 1 } },
      axisLabel: { customValues: xMajor, formatter: tickText, margin: 30, fontFamily: FONT, fontSize: 23, color: '#111' },
      name: axisName(p.xName), nameLocation: 'middle', nameGap: 78, nameTextStyle: { rich: nameRich },
    });
    xAxis.push({
      type: 'value', gridIndex: g0, position: 'bottom', min: p.xRange[0], max: p.xRange[1], splitLine: { show: false }, axisLine: noLine, axisLabel: { show: false },
      axisTick: { length: 4, customValues: minorTicks(p.xRange), lineStyle: { color: '#222', width: 1.5 } },
    });
    xAxis.push({ type: 'value', gridIndex: g0 + 1, min: 0, max: 1, show: false });

    yAxis.push({
      type: 'value', gridIndex: g0, position: 'left', min: p.yRange[0], max: p.yRange[1], splitLine: { show: false }, axisLine: noLine,
      axisTick: { length: 14, customValues: yMajor, lineStyle: { color: '#555', width: 1 } },
      axisLabel: { customValues: yMajor, formatter: tickText, margin: 29, fontFamily: FONT, fontSize: 23, color: '#111' },
      name: axisName(p.yName), nameLocation: 'middle', nameGap: 86, nameRotate: 90, nameTextStyle: { rich: nameRich },
    });
    yAxis.push({
      type: 'value', gridIndex: g0, position: 'left', min: p.yRange[0], max: p.yRange[1], splitLine: { show: false }, axisLine: noLine, axisLabel: { show: false },
      axisTick: { length: 4, customValues: minorTicks(p.yRange), lineStyle: { color: '#222', width: 1.5 } },
    });
    const barMax = p.palette.length * 0.05;
    yAxis.push({
      type: 'value', gridIndex: g0 + 1, position: 'right', min: 0, max: barMax, splitLine: { show: false }, axisLine: noLine,
      axisTick: { length: 15, customValues: p.barTicks, lineStyle: { color: '#555', width: 1 } },
      axisLabel: { customValues: p.barTicks, formatter: (v: number) => v.toFixed(1), margin: 27, fontFamily: FONT, fontSize: 23, color: '#111' },
    });

    const main = { xAxisIndex: x0, yAxisIndex: y0 };

    series.push({
      type: 'custom', ...main, silent: true, z: 2, clip: true,
      data: p.fills.map((f) => f[2][0]),
      renderItem: (params: any, api: any) => {
        const f = p.fills[params.dataIndex];
        return {
          type: 'polygon',
          shape: { points: f[2].map((pt) => api.coord(pt)) },
          style: { fill: p.palette[f[0]], stroke: f[1] ? '#000' : p.palette[f[0]], lineWidth: f[1] ? 1.5 : 0.4 },
        };
      },
    });

    p.lines.forEach((line) => {
      series.push({ type: 'line', ...main, data: line, symbol: 'none', silent: true, z: 3, lineStyle: { color: '#000', width: 1.5 } });
    });

    series.push({
      type: 'custom', ...main, silent: true, z: 4,
      data: p.labels.map((l) => [l[1], l[2]]),
      renderItem: (params: any, api: any) => {
        const l = p.labels[params.dataIndex];
        const c = api.coord([l[1], l[2]]);
        return {
          type: 'text', x: c[0], y: c[1], rotation: (l[3] * Math.PI) / 180,
          style: { text: l[0], fontFamily: FONT, fontSize: 21.5, fill: '#111', align: 'center', verticalAlign: 'middle', backgroundColor: l[4] >= 0 ? p.palette[l[4]] : undefined, padding: l[4] >= 0 ? [0, 3] : 0 },
        };
      },
    });

    series.push({
      type: 'scatter', ...main, data: p.plus, silent: true, z: 4, symbol: 'path://M5 0V10M0 5H10', symbolSize: 14,
      itemStyle: { color: 'none', borderColor: '#000', borderWidth: 1.5, opacity: 1 },
    });

    series.push({
      type: 'custom', ...main, silent: true, z: 5,
      data: [[p.xRange[0], p.yRange[0]]],
      renderItem: (_: any, api: any) => {
        const a = api.coord([p.xRange[0], p.yRange[1]]);
        const b = api.coord([p.xRange[1], p.yRange[0]]);
        return { type: 'rect', shape: { x: a[0], y: a[1], width: b[0] - a[0], height: b[1] - a[1] }, style: { fill: 'none', stroke: '#333', lineWidth: 2 } };
      },
    });

    series.push({
      type: 'custom', xAxisIndex: x0 + 2, yAxisIndex: y0 + 2, silent: true, z: 2,
      data: p.palette.map((_c, i) => [0, i * 0.05]),
      renderItem: (params: any, api: any) => {
        const i = params.dataIndex;
        const a = api.coord([0, (i + 1) * 0.05]);
        const b = api.coord([1, i * 0.05]);
        return { type: 'rect', shape: { x: a[0], y: a[1], width: b[0] - a[0], height: b[1] - a[1] }, style: { fill: p.palette[i], stroke: '#111', lineWidth: 1.6 } };
      },
    });
  });

  return { animation: false, backgroundColor: '#fff', title, grid, xAxis, yAxis, series };
};

export default function App() {
  const ref = useRef<HTMLDivElement>(null);

  useEffect(() => {
    if (!ref.current) return;
    const chart = echarts.init(ref.current, undefined, { renderer: 'svg' });
    chart.setOption(buildOption());
    return () => chart.dispose();
  }, []);

  return <div ref={ref} style={{ position: 'absolute', left: 0, top: 0, width: 2027, height: 1976 }} />;
}
